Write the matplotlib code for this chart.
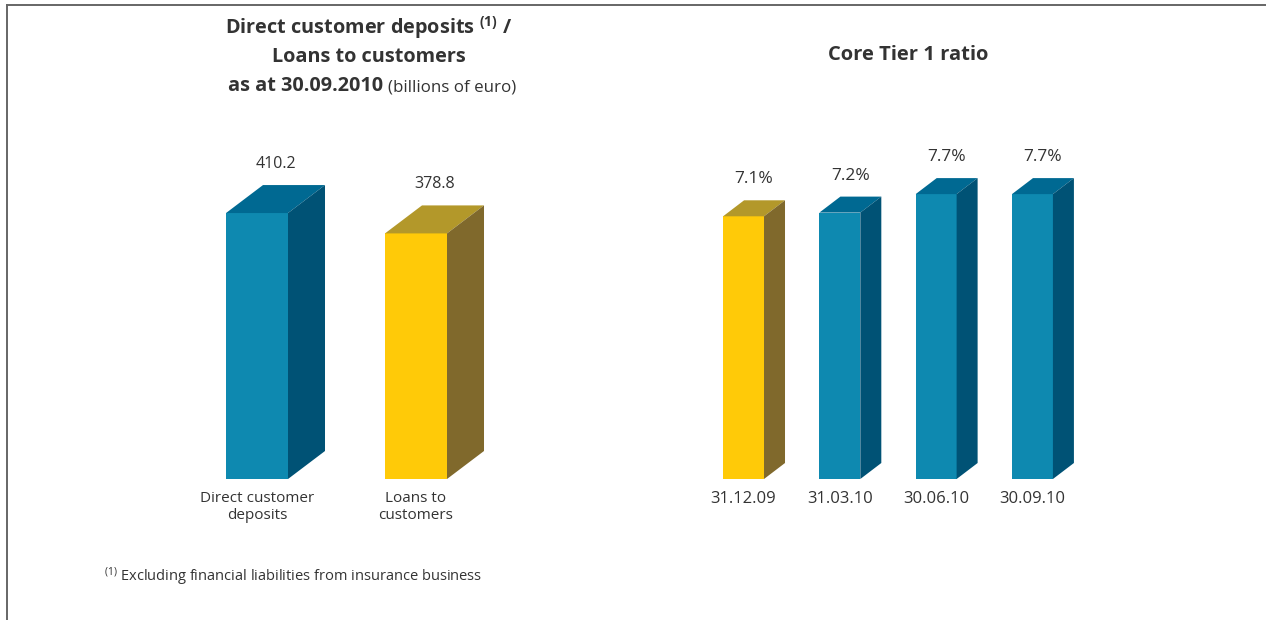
import matplotlib
matplotlib.use('Agg')
import matplotlib.pyplot as plt
from matplotlib.patches import Polygon
from matplotlib.lines import Line2D

plt.rcParams['font.family'] = ['Open Sans', 'DejaVu Sans']
plt.rcParams['mathtext.fontset'] = 'custom'
plt.rcParams['mathtext.rm'] = 'Open Sans'
plt.rcParams['mathtext.bf'] = 'Open Sans:bold'
plt.rcParams['mathtext.it'] = 'Open Sans:italic'

TEXT = '#333333'

deposit_labels = ['Direct customer\ndeposits', 'Loans to\ncustomers']
deposit_values = [410.2, 378.8]

ratio_labels = ['31.12.09', '31.03.10', '30.06.10', '30.09.10']
ratio_values = [7.1, 7.2, 7.7, 7.7]

# front, top, side shades
BLUE = ('#0e89b0', '#006992', '#005275')
GOLD = ('#ffca08', '#b3982a', '#80692c')

W, H = 1266, 620
fig = plt.figure(figsize=(W / 100, H / 100), dpi=100)


def px_axes(x0, x1, y_top, y_bot):
    return fig.add_axes([x0 / W, 1 - y_bot / H, (x1 - x0) / W, (y_bot - y_top) / H])


def bars3d(ax, values, labels, colors, width, depth_px, fmt, fs):
    ax.set_xticks(range(len(values)), labels)
    ax.tick_params(axis='x', length=0, pad=8.5, labelsize=fs, labelcolor=TEXT)
    ax.set_yticks([])
    for s in ax.spines.values():
        s.set_visible(False)

    # depth of the box in data units
    inv = ax.transData.inverted()
    dx, dy = inv.transform(ax.transData.transform((0, 0)) + depth_px)

    for i, (v, (front, top, side)) in enumerate(zip(values, colors)):
        x0, x1 = i - width / 2, i + width / 2
        ax.bar(i, v, width=width, color=front, linewidth=0)
        ax.add_patch(Polygon([(x0, v), (x1, v), (x1 + dx, v + dy), (x0 + dx, v + dy)],
                             closed=True, fc=top, ec='none'))
        ax.add_patch(Polygon([(x1, 0), (x1, v), (x1 + dx, v + dy), (x1 + dx, dy)],
                             closed=True, fc=side, ec='none'))
        ax.annotate(fmt.format(v), (i + dx / 2, v + dy), xytext=(0, 21),
                    textcoords='offset pixels', ha='center', va='center',
                    fontsize=fs + 0.5, color=TEXT)


# left panel: deposits vs loans
ax1 = px_axes(129.8, 543.2, 90, 479)
ax1.set_xlim(-0.8, 1.8)
ax1.set_ylim(0, 600)
bars3d(ax1, deposit_values, deposit_labels, [BLUE, GOLD], 0.39, (37, 28), '{:.1f}', 11)

# right panel: core tier 1 ratio
ax2 = px_axes(666.5, 1109.5, 109, 479)
ax2.set_xlim(-0.8, 3.8)
ax2.set_ylim(0, 10)
bars3d(ax2, ratio_values, ratio_labels, [GOLD, BLUE, BLUE, BLUE], 0.425, (21, 16), '{:.1f}%', 12)

# titles
tkw = dict(ha='center', va='center', color=TEXT, fontsize=14.3)
fig.text(369 / W, 1 - 28 / H, r'Direct customer deposits $^{\mathbf{(1)}}$ /', fontweight='bold', **tkw)
fig.text(369 / W, 1 - 57 / H, 'Loans to customers', fontweight='bold', **tkw)
fig.text(383 / W, 1 - 86 / H, 'as at 30.09.2010', fontweight='bold',
         **{**tkw, 'ha': 'right'})
fig.text(388 / W, 1 - 87 / H, '(billions of euro)', ha='left', va='center',
         color=TEXT, fontsize=12.2)
fig.text(908 / W, 1 - 55 / H, 'Core Tier 1 ratio', fontweight='bold',
         **{**tkw, 'fontsize': 14.5})

# footnote
fig.text(104 / W, 1 - 577 / H, r'$^{(1)}$ Excluding financial liabilities from insurance business',
         ha='left', va='center', color=TEXT, fontsize=10.5)

# frame on top and left
fig.add_artist(Line2D([7 / W, 1], [1 - 5 / H, 1 - 5 / H], color='#666666', lw=1.4))
fig.add_artist(Line2D([7 / W, 7 / W], [0, 1 - 5 / H], color='#666666', lw=1.4))

fig.savefig('out.png', dpi=100)
